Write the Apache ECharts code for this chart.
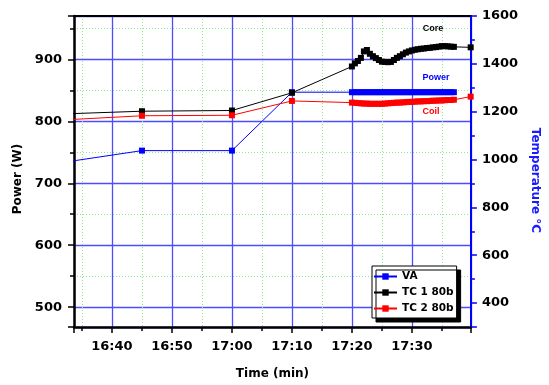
<!DOCTYPE html>
<html>
<head>
<meta charset="utf-8">
<script src="https://cdn.jsdelivr.net/npm/echarts@6/dist/echarts.min.js"></script>
<style>
  html, body { margin: 0; padding: 0; background: #fff; }
  #chart { width: 549px; height: 385px; }
</style>
</head>
<body>
<div id="chart"></div>
<script>
// Time is in minutes since midnight (1000 = 16:40).
const vaTimes = [990, 1005, 1020, 1030, 1040, 1040.5, 1041, 1041.5, 1042, 1042.5, 1043, 1043.5, 1044, 1044.5, 1045, 1045.5, 1046, 1046.5, 1047, 1047.5, 1048, 1048.5, 1049, 1049.5, 1050, 1050.5, 1051, 1051.5, 1052, 1052.5, 1053, 1053.5, 1054, 1054.5, 1055, 1055.5, 1056, 1056.5, 1057];
const vaPower = [731, 752.7, 752.7, 847, 847, 847, 847, 847, 847, 847, 847, 847, 847, 847, 847, 847, 847, 847, 847, 847, 847, 847, 847, 847, 847, 847, 847, 847, 847, 847, 847, 847, 847, 847, 847, 847, 847, 847, 847];

const tcTimes = [990, 1005, 1020, 1030, 1040, 1040.5, 1041, 1041.5, 1042, 1042.5, 1043, 1043.5, 1044, 1044.5, 1045, 1045.5, 1046, 1046.5, 1047, 1047.5, 1048, 1048.5, 1049, 1049.5, 1050, 1050.5, 1051, 1051.5, 1052, 1052.5, 1053, 1053.5, 1054, 1054.5, 1055, 1055.5, 1056, 1056.5, 1057, 1059.8];
const tc1Temp = [1189, 1202, 1205, 1279, 1389, 1402, 1412, 1425, 1452, 1458, 1442, 1432, 1424, 1416, 1409, 1408, 1407, 1408, 1416, 1425, 1432, 1440, 1447, 1452, 1456, 1459, 1461, 1463, 1464, 1466, 1467, 1469, 1470, 1472, 1474, 1474, 1473, 1472, 1471, 1469];
const tc2Temp = [1163, 1183, 1185, 1245, 1238, 1237, 1236, 1235, 1234, 1234, 1233, 1233, 1233, 1233, 1233, 1234, 1235, 1236, 1237, 1238, 1238, 1239, 1240, 1241, 1241, 1242, 1243, 1243, 1244, 1244, 1245, 1246, 1246, 1247, 1247, 1248, 1249, 1249, 1250, 1263];

const seriesNames = ['VA', 'TC 1 80b', 'TC 2 80b'];
const seriesColors = ['#0000ff', '#000000', '#ff0000'];
const annotations = [
  { text: 'Core', color: '#000000', x: 433, y: 29 },
  { text: 'Power', color: '#0000ff', x: 436, y: 78 },
  { text: 'Coil', color: '#ff0000', x: 431, y: 112 }
];

const pair = (xs, ys) => xs.map((x, i) => [x, ys[i]]);
const labelFont = { fontFamily: 'DejaVu Sans', fontWeight: 'bold', fontSize: 13, color: '#000' };
const nameFont = { fontFamily: 'DejaVu Sans', fontWeight: 'bold', fontSize: 12, color: '#000' };

function hhmm(v) {
  const h = Math.floor(v / 60);
  const m = Math.round(v - h * 60);
  return h + ':' + (m < 10 ? '0' + m : m);
}

const chart = echarts.init(document.getElementById('chart'), null, { renderer: 'canvas' });

const lineSeries = (name, color, data, yAxisIndex) => ({
  name, type: 'line', yAxisIndex, data,
  symbol: 'rect', symbolSize: 6,
  showAllSymbol: true,
  lineStyle: { color, width: 1 },
  itemStyle: { color },
  animation: false
});

chart.setOption({
  animation: false,
  grid: { left: 74, right: 71, top: 16, bottom: 53 },
  legend: {
    data: seriesNames,
    orient: 'vertical',
    left: 372, top: 266,
    itemWidth: 23, itemHeight: 8, itemGap: 5,
    padding: [5, 3, 4, 1],
    backgroundColor: '#fff',
    borderColor: '#000', borderWidth: 1,
    shadowColor: '#000', shadowBlur: 0, shadowOffsetX: 4, shadowOffsetY: 4,
    textStyle: { fontFamily: 'DejaVu Sans', fontWeight: 'bold', fontSize: 10.5, color: '#000' }
  },
  xAxis: [{
    type: 'value', min: 993.67, max: 1059.84, position: 'bottom',
    name: 'Time (min)', nameLocation: 'middle', nameGap: 41,
    nameTextStyle: nameFont,
    axisLine: { onZero: false, lineStyle: { color: '#000', width: 2.5 } },
    axisTick: { length: 6, lineStyle: { color: '#000', width: 1.5 } },
    minorTick: { show: true, splitNumber: 2, length: 4, lineStyle: { color: '#000', width: 1.5 } },
    axisLabel: Object.assign({ formatter: hhmm, showMinLabel: false, showMaxLabel: false, margin: 13 }, labelFont),
    splitLine: { show: true, lineStyle: { color: '#4d4dff', width: 1.3 } },
    minorSplitLine: { show: true, lineStyle: { color: '#8fe68f', width: 1, type: [1, 2] } }
  }, {
    type: 'value', min: 993.67, max: 1059.84, position: 'top',
    axisLine: { onZero: false, lineStyle: { color: '#000', width: 2 } },
    axisTick: { show: false }, axisLabel: { show: false }, splitLine: { show: false }
  }],
  yAxis: [{
    type: 'value', min: 468, max: 970, position: 'left',
    name: 'Power (W)', nameLocation: 'middle', nameGap: 50,
    nameTextStyle: Object.assign({ padding: [0, 15, 0, 0] }, nameFont),
    axisLine: { lineStyle: { color: '#000', width: 2.5 } },
    axisTick: { length: 6, lineStyle: { color: '#000', width: 1.5 } },
    minorTick: { show: true, splitNumber: 2, length: 4, lineStyle: { color: '#000', width: 1.5 } },
    axisLabel: Object.assign({ showMinLabel: false, showMaxLabel: false, margin: 12 }, labelFont),
    splitLine: { show: true, lineStyle: { color: '#4d4dff', width: 1.3 } },
    minorSplitLine: { show: true, lineStyle: { color: '#8fe68f', width: 1, type: [1, 2] } }
  }, {
    type: 'value', min: 300, max: 1600, splitNumber: 6, position: 'right',
    name: 'Temperature °C', nameLocation: 'middle', nameGap: 58, nameRotate: -90,
    nameTextStyle: Object.assign({}, nameFont, { color: '#1a1aff', padding: [0, 0, 0, 18] }),
    axisLine: { lineStyle: { color: '#0000ff', width: 2 } },
    axisTick: { length: 6, lineStyle: { color: '#0000ff', width: 1.5 } },
    minorTick: { show: true, splitNumber: 2, length: 4, lineStyle: { color: '#0000ff', width: 1.5 } },
    axisLabel: Object.assign({ showMinLabel: false, margin: 11, formatter: v => String(v) }, labelFont),
    splitLine: { show: false }
  }],
  series: [
    lineSeries(seriesNames[0], seriesColors[0], pair(vaTimes, vaPower), 0),
    lineSeries(seriesNames[1], seriesColors[1], pair(tcTimes, tc1Temp), 1),
    lineSeries(seriesNames[2], seriesColors[2], pair(tcTimes, tc2Temp), 1)
  ],
  graphic: annotations.map(a => ({
    type: 'text', x: a.x, y: a.y, z: 10,
    style: {
      text: a.text, fill: a.color,
      font: 'bold 9px "Liberation Sans"',
      textAlign: 'center', textVerticalAlign: 'middle'
    }
  }))
});
</script>
</body>
</html>
